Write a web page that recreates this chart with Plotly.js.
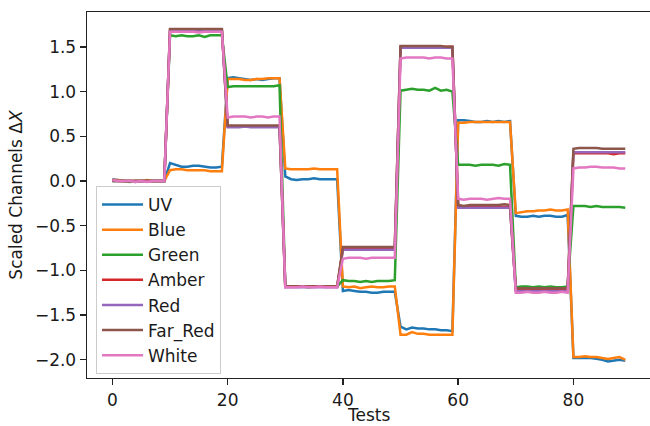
<!DOCTYPE html>
<html>
<head>
<meta charset="utf-8">
<script src="https://cdn.plot.ly/plotly-3.0.1.min.js"></script>
<style>
  html, body { margin: 0; padding: 0; background: #fff; }
  #chart { width: 650px; height: 426px; }
</style>
</head>
<body>
<div id="chart"></div>
<script>
const seriesNames = ["UV", "Blue", "Green", "Amber", "Red", "Far_Red", "White"];
const seriesColors = ["#1f77b4", "#ff7f0e", "#2ca02c", "#d62728", "#9467bd", "#8c564b", "#e377c2"];

const uv = [
  0.02,0.01,0.00,0.00,-0.01,0.00,0.00,0.00,0.00,0.00,
  0.20,0.18,0.16,0.16,0.17,0.17,0.16,0.15,0.15,0.16,
  1.15,1.16,1.15,1.14,1.13,1.14,1.13,1.14,1.15,1.15,
  0.05,0.02,0.01,0.02,0.02,0.03,0.02,0.02,0.02,0.02,
  -1.23,-1.22,-1.23,-1.24,-1.24,-1.25,-1.25,-1.24,-1.24,-1.24,
  -1.63,-1.66,-1.64,-1.65,-1.65,-1.66,-1.66,-1.67,-1.67,-1.68,
  0.68,0.68,0.67,0.66,0.66,0.67,0.66,0.67,0.66,0.67,
  -0.39,-0.40,-0.40,-0.39,-0.40,-0.39,-0.39,-0.40,-0.40,-0.38,
  -1.98,-1.98,-1.98,-1.98,-1.99,-2.00,-2.02,-2.01,-2.00,-2.01
];
const blue = [
  0.01,0.01,0.00,0.00,0.00,0.00,0.01,0.00,0.00,0.00,
  0.12,0.13,0.13,0.12,0.12,0.12,0.12,0.11,0.11,0.11,
  1.14,1.14,1.14,1.13,1.13,1.14,1.14,1.15,1.15,1.15,
  0.14,0.13,0.13,0.13,0.13,0.14,0.13,0.13,0.13,0.13,
  -1.18,-1.19,-1.18,-1.20,-1.19,-1.18,-1.19,-1.19,-1.18,-1.18,
  -1.72,-1.72,-1.69,-1.71,-1.71,-1.72,-1.72,-1.72,-1.72,-1.72,
  0.65,0.65,0.66,0.66,0.66,0.66,0.66,0.66,0.66,0.66,
  -0.36,-0.35,-0.34,-0.34,-0.33,-0.33,-0.32,-0.33,-0.33,-0.32,
  -1.97,-1.97,-1.96,-1.97,-1.97,-1.98,-1.99,-1.98,-1.97,-2.00
];
const green = [
  0.00,0.00,0.00,-0.01,0.00,0.00,0.00,0.00,0.00,0.00,
  1.63,1.62,1.63,1.62,1.62,1.63,1.61,1.63,1.63,1.63,
  1.05,1.06,1.06,1.06,1.06,1.06,1.06,1.06,1.06,1.07,
  -1.18,-1.18,-1.18,-1.18,-1.19,-1.18,-1.18,-1.18,-1.18,-1.18,
  -1.11,-1.12,-1.12,-1.13,-1.12,-1.13,-1.12,-1.12,-1.12,-1.11,
  1.01,1.02,1.03,1.02,1.02,1.01,1.04,1.01,1.02,1.00,
  0.18,0.18,0.18,0.17,0.18,0.18,0.18,0.17,0.19,0.18,
  -1.19,-1.18,-1.18,-1.19,-1.18,-1.19,-1.18,-1.19,-1.19,-1.18,
  -0.28,-0.28,-0.28,-0.29,-0.28,-0.29,-0.29,-0.29,-0.29,-0.30
];
const amber = [
  0.01,0.00,0.00,0.00,0.00,0.00,0.00,0.00,0.00,0.00,
  1.68,1.68,1.68,1.68,1.68,1.68,1.68,1.68,1.69,1.68,
  0.61,0.61,0.61,0.61,0.61,0.61,0.61,0.61,0.61,0.61,
  -1.18,-1.18,-1.18,-1.18,-1.18,-1.18,-1.18,-1.18,-1.18,-1.18,
  -0.76,-0.76,-0.76,-0.76,-0.76,-0.76,-0.76,-0.76,-0.76,-0.76,
  1.50,1.50,1.50,1.50,1.50,1.50,1.50,1.50,1.50,1.50,
  -0.29,-0.29,-0.29,-0.29,-0.29,-0.29,-0.29,-0.29,-0.29,-0.29,
  -1.22,-1.22,-1.22,-1.22,-1.22,-1.21,-1.22,-1.22,-1.22,-1.22,
  0.31,0.31,0.31,0.31,0.31,0.31,0.31,0.30,0.31,0.31
];
const red = [
  0.00,0.00,0.00,0.00,0.00,0.00,0.00,0.00,0.00,0.00,
  1.69,1.69,1.69,1.69,1.69,1.69,1.69,1.69,1.69,1.69,
  0.60,0.60,0.60,0.61,0.60,0.60,0.60,0.60,0.60,0.60,
  -1.19,-1.19,-1.19,-1.19,-1.19,-1.19,-1.19,-1.19,-1.19,-1.19,
  -0.77,-0.77,-0.77,-0.77,-0.77,-0.77,-0.77,-0.77,-0.77,-0.77,
  1.49,1.49,1.49,1.49,1.49,1.49,1.49,1.49,1.49,1.49,
  -0.30,-0.30,-0.30,-0.30,-0.30,-0.30,-0.30,-0.30,-0.30,-0.30,
  -1.23,-1.23,-1.23,-1.23,-1.23,-1.23,-1.23,-1.23,-1.23,-1.23,
  0.32,0.32,0.32,0.32,0.32,0.32,0.32,0.32,0.32,0.32
];
const farRed = [
  0.00,0.00,0.00,0.00,0.00,0.00,0.00,0.00,0.00,0.00,
  1.70,1.70,1.70,1.70,1.70,1.70,1.70,1.70,1.70,1.70,
  0.62,0.62,0.62,0.62,0.62,0.62,0.62,0.62,0.62,0.62,
  -1.18,-1.18,-1.18,-1.18,-1.18,-1.18,-1.18,-1.18,-1.18,-1.18,
  -0.74,-0.74,-0.74,-0.74,-0.74,-0.74,-0.74,-0.74,-0.74,-0.74,
  1.51,1.51,1.51,1.51,1.51,1.51,1.51,1.51,1.50,1.50,
  -0.27,-0.28,-0.27,-0.27,-0.27,-0.27,-0.27,-0.27,-0.26,-0.27,
  -1.20,-1.20,-1.20,-1.20,-1.20,-1.20,-1.20,-1.20,-1.20,-1.20,
  0.36,0.37,0.37,0.37,0.37,0.36,0.36,0.36,0.36,0.36
];
const white = [
  0.01,0.00,0.00,0.00,-0.01,0.00,-0.01,0.00,0.00,0.00,
  1.67,1.67,1.67,1.67,1.67,1.66,1.67,1.67,1.67,1.67,
  0.71,0.72,0.72,0.72,0.71,0.72,0.72,0.71,0.72,0.72,
  -1.19,-1.19,-1.19,-1.18,-1.19,-1.19,-1.18,-1.19,-1.19,-1.19,
  -0.87,-0.86,-0.86,-0.86,-0.87,-0.86,-0.86,-0.86,-0.86,-0.86,
  1.37,1.38,1.38,1.38,1.38,1.37,1.38,1.38,1.37,1.37,
  -0.20,-0.21,-0.20,-0.20,-0.20,-0.21,-0.20,-0.19,-0.20,-0.20,
  -1.25,-1.25,-1.24,-1.25,-1.25,-1.24,-1.25,-1.25,-1.24,-1.25,
  0.14,0.15,0.15,0.16,0.16,0.15,0.15,0.15,0.14,0.14
];
const seriesValues = [uv, blue, green, amber, red, farRed, white];
const xTickVals = [0, 20, 40, 60, 80];
const yTickVals = [-2.0, -1.5, -1.0, -0.5, 0.0, 0.5, 1.0, 1.5];
const xTitle = "Tests";
const yTitle = "Scaled Channels Δ<i>X</i>";

const tests = uv.map((_, i) => i);

const traces = seriesNames.map((name, k) => ({
  type: "scatter",
  mode: "lines",
  name: name,
  x: tests,
  y: seriesValues[k],
  line: { color: seriesColors[k], width: 2.5 },
  hoverinfo: "skip"
}));

const font = { family: "DejaVu Sans, sans-serif", size: 17, color: "#1a1a1a" };

const layout = {
  width: 650,
  height: 426,
  margin: { l: 87, r: 0, t: 12, b: 48, autoexpand: false },
  paper_bgcolor: "#ffffff",
  plot_bgcolor: "#ffffff",
  font: font,
  showlegend: true,
  legend: {
    x: 0.016, y: 0.5246, xanchor: "left", yanchor: "top",
    bgcolor: "rgba(255,255,255,0.8)",
    bordercolor: "#cccccc", borderwidth: 1,
    font: font,
    itemwidth: 41,
    tracegroupgap: 0
  },
  xaxis: {
    range: [-4.41, 93.29],
    tickvals: xTickVals,
    ticktext: xTickVals.map(String),
    ticks: "outside", ticklen: 6, tickwidth: 1.4, tickcolor: "#222",
    showline: true, linecolor: "#222", linewidth: 1.4, mirror: true,
    showgrid: false, zeroline: false,
    tickfont: font
  },
  yaxis: {
    range: [-2.204, 1.890],
    tickvals: yTickVals,
    tickformat: ".1f",
    ticks: "outside", ticklen: 6, tickwidth: 1.4, tickcolor: "#222",
    showline: true, linecolor: "#222", linewidth: 1.4, mirror: false,
    showgrid: false, zeroline: false,
    title: { text: yTitle, font: font, standoff: 8 },
    tickfont: font
  },
  annotations: [{
    text: xTitle, xref: "paper", yref: "paper",
    x: 0.5, y: -0.1, xanchor: "center", yanchor: "middle",
    showarrow: false, font: font
  }]
};

Plotly.newPlot("chart", traces, layout, { staticPlot: true, displayModeBar: false });
</script>
</body>
</html>
